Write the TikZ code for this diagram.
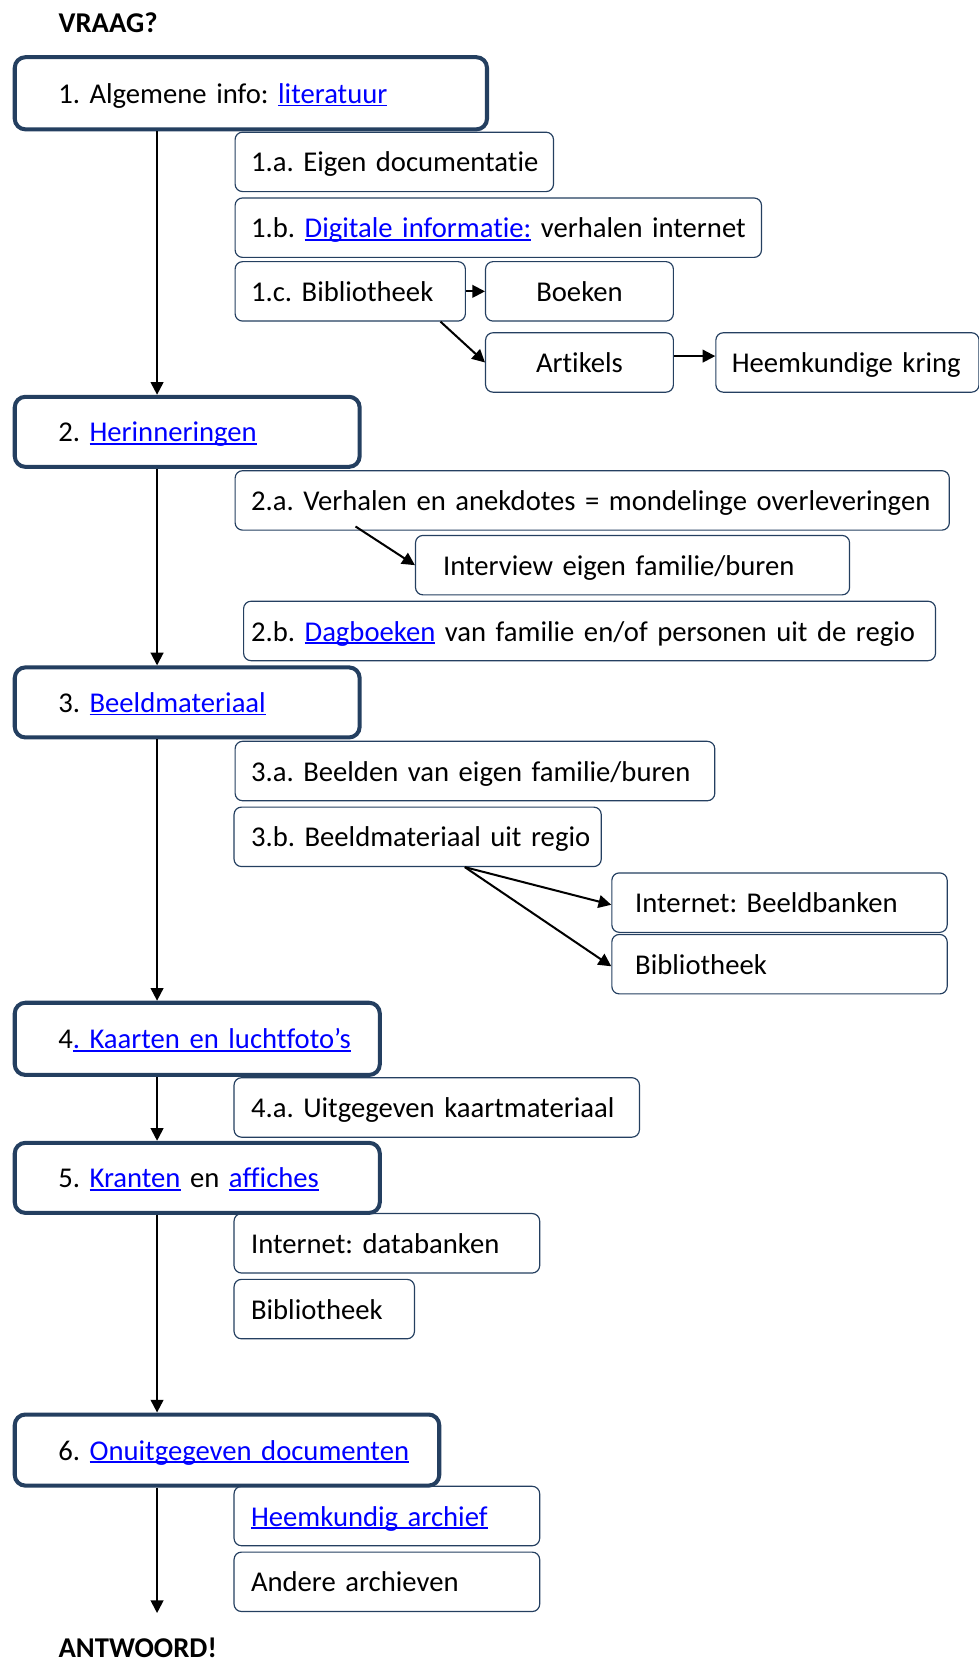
\documentclass[tikz,border=0pt]{standalone}
\usepackage{fontspec}
\setmainfont{Carlito}[Ligatures={TeX,NoCommon}]
\usetikzlibrary{arrows.meta}
\usepackage{xcolor}
\definecolor{boxnavy}{RGB}{36,63,96}
\definecolor{linkblue}{RGB}{0,0,255}
\newcommand\boxind{12pt}
\newcommand\lnk[1]{\textcolor{linkblue}{\setbox0=\hbox{#1}\rlap{\rule[-0.1em]{\wd0}{0.06em}}\box0}}
\frenchspacing

\begin{document}
\begin{tikzpicture}[x=1pt, y=-1pt, font=\fontsize{27}{32}\selectfont,
  textindent/.code={\def\boxind{#1}},
  base/.style={draw=boxnavy, anchor=north west, align=left, inner xsep=3pt, inner ysep=0pt,
    text height=20pt, text depth=1pt, execute at begin node={\hspace*{\boxind}}},
  stage/.style={base, line width=3.8pt, rounded corners=10pt, minimum height=#1, textindent=38pt},
  sub/.style={base, line width=1.1pt, rounded corners=7pt, minimum height=56pt, text width=#1-6pt},
  title/.style={anchor=west, inner sep=0pt, font=\fontsize{27}{32}\selectfont\bfseries},
  flow/.style={-{Triangle[length=12pt,width=12pt]}, line width=1.9pt}]
  \useasboundingbox (0,0) rectangle (922,1568);
  \coordinate (spine) at (148,0);

  \node[title] (vraag) at (55,21) {VRAAG?};
  \node[title] (antw) at (55,1553) {ANTWOORD!};
  \coordinate (einde) at (148,1520);

  % hoofdstappen
  \node[stage=68pt, text width=439pt] (b1) at (12,52) {1. Algemene info: \lnk{literatuur}};
  \node[stage=66pt, text width=319pt] (b2) at (12,372) {2. \lnk{Herinneringen}};
  \node[stage=66pt, text width=319pt] (b3) at (12,627) {3. \lnk{Beeldmateriaal}};
  \node[stage=68pt, text width=338pt] (b4) at (12,943) {4\lnk{. Kaarten en luchtfoto’s}};
  \node[stage=66pt, text width=338pt] (b5) at (12,1075) {5. \lnk{Kranten} en \lnk{affiches}};
  \node[stage=67pt, text width=394pt] (b6) at (12,1331) {6. \lnk{Onuitgegeven documenten}};

  % deelbronnen
  \node[sub=300pt] (eigen) at (221,124) {1.a. Eigen documentatie};
  \node[sub=496pt] (digitaal) at (221,186) {1.b. \lnk{Digitale informatie:} verhalen internet};
  \node[sub=217pt] (bib1) at (221,246) {1.c. Bibliotheek};
  \node[sub=177pt, align=center, textindent=0pt] (boeken) at (457,246) {Boeken};
  \node[sub=177pt, align=center, textindent=0pt] (artikels) at (457,313) {Artikels};
  \node[sub=248pt] (kring) at (674,313) {Heemkundige kring};

  \node[sub=673pt] (verhalen) at (221,443) {2.a. Verhalen en anekdotes = mondelinge overleveringen};
  \node[sub=409pt, textindent=23pt] (interview) at (391,504) {Interview eigen familie/buren};
  \node[sub=652pt, textindent=4pt] (dagboek) at (229,566) {2.b. \lnk{Dagboeken} van familie en/of personen uit de regio};

  \node[sub=452pt] (beelden) at (221,698) {3.a. Beelden van eigen familie/buren};
  \node[sub=346pt, textindent=13pt] (regio) at (220,760) {3.b. Beeldmateriaal uit regio};
  \node[sub=316pt, textindent=19pt] (banken) at (576,822) {Internet: Beeldbanken};
  \node[sub=316pt, textindent=19pt] (bib3) at (576,880) {Bibliotheek};

  \node[sub=382pt, textindent=13pt] (kaart) at (220,1015) {4.a. Uitgegeven kaartmateriaal};
  \node[sub=288pt, textindent=13pt] (databank) at (220,1143) {Internet: databanken};
  \node[sub=170pt, textindent=13pt] (bib5) at (220,1205) {Bibliotheek};

  \node[sub=288pt, textindent=13pt] (archief) at (220,1400) {\lnk{Heemkundig archief}};
  \node[sub=288pt, textindent=13pt] (andere) at (220,1462) {Andere archieven};

  % pijlen
  \draw[flow] (b1.south -| spine) -- (b2.north -| spine);
  \draw[flow] (b2.south -| spine) -- (b3.north -| spine);
  \draw[flow] (b3.south -| spine) -- (b4.north -| spine);
  \draw[flow] (b4.south -| spine) -- (b5.north -| spine);
  \draw[flow] (b5.south -| spine) -- (b6.north -| spine);
  \draw[flow] (b6.south -| spine) -- (einde);

  \draw[flow] (bib1.east) -- (boeken.west);
  \draw[flow] ([xshift=-24pt]bib1.south east) -- (artikels.west);
  \draw[flow] ([yshift=6pt]artikels.east) -- ([yshift=6pt]kring.west);
  \draw[flow] ([xshift=114pt,yshift=4pt]verhalen.south west) -- (interview.west);
  \draw[flow] ([xshift=218pt]regio.south west) -- ([yshift=-2pt]banken.west);
  \draw[flow] ([xshift=218pt]regio.south west) -- ([yshift=-2pt]bib3.west);
\end{tikzpicture}
\end{document}
